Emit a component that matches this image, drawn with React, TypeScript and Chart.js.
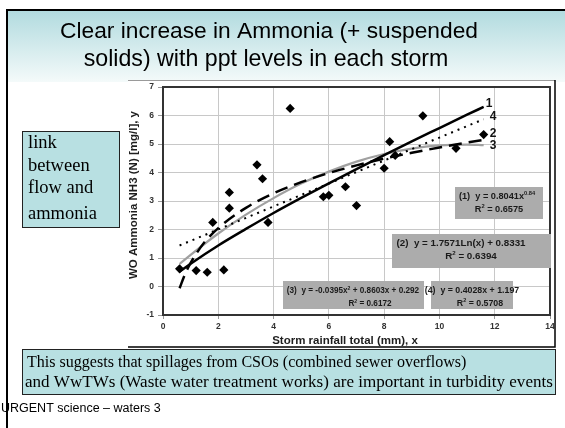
import { useEffect, useRef } from 'react';
import { Chart, registerables } from 'chart.js';

Chart.register(...registerables);

// Observed storms: rainfall total (mm) vs WO ammonia NH3 (N) (mg/l)
const obsX = [0.6, 1.2, 1.6, 2.2, 1.8, 2.4, 2.4, 3.4, 3.6, 3.8, 4.6, 5.8, 6.0, 6.6, 7.0, 8.0, 8.2, 8.4, 9.4, 10.6, 11.6];
const obsY = [0.62, 0.56, 0.5, 0.58, 2.25, 3.3, 2.75, 4.27, 3.78, 2.25, 6.25, 3.15, 3.2, 3.5, 2.84, 4.15, 5.08, 4.6, 5.99, 4.85, 5.33];

// Trend lines
const powX = [0.6, 1, 2, 3, 4, 5, 6, 7, 8, 9, 10, 11, 11.6];
const powY = [0.52, 0.8, 1.44, 2.02, 2.58, 3.11, 3.62, 4.12, 4.61, 5.09, 5.56, 6.03, 6.3];
const logX = [0.6, 0.8, 1, 1.5, 2, 3, 4, 5, 6, 7, 8, 9, 10, 11, 11.6];
const logY = [-0.06, 0.44, 0.83, 1.55, 2.05, 2.76, 3.27, 3.66, 3.98, 4.25, 4.49, 4.69, 4.88, 5.05, 5.14];
const polyX = [0.6, 1, 2, 3, 4, 5, 6, 7, 8, 9, 10, 11, 11.6];
const polyY = [0.79, 1.11, 1.86, 2.52, 3.1, 3.61, 4.03, 4.38, 4.65, 4.84, 4.95, 4.98, 4.96];
const linX = [0.6, 11.6];
const linY = [1.44, 5.87];

const trendNames = ['1', '2', '3', '4'];

const xTicks = [0, 2, 4, 6, 8, 10, 12, 14];
const yTicks = [-1, 0, 1, 2, 3, 4, 5, 6, 7];

const xTitle = 'Storm rainfall total (mm), x';
const yTitle = 'WO Ammonia NH3 (N) [mg/l], y';
const titleLines = ['Clear increase in Ammonia (+ suspended', 'solids) with ppt levels in each storm'];
const sideLines = ['link', 'between', 'flow and', 'ammonia'];
const noteLines = [
  'This suggests that spillages from CSOs (combined sewer overflows)',
  'and WwTWs (Waste water treatment works) are important in turbidity events',
];
const footer = 'URGENT science \u2013 waters 3';

type Seg = { t: string; sup?: boolean };
const eq1: Seg[][] = [[{ t: '(1)  y = 0.8041x' }, { t: '0.84', sup: true }], [{ t: 'R' }, { t: '2', sup: true }, { t: ' = 0.6575' }]];
const eq2: Seg[][] = [[{ t: '(2)  y = 1.7571Ln(x) + 0.8331' }], [{ t: 'R' }, { t: '2', sup: true }, { t: ' = 0.6394' }]];
const eq3: Seg[][] = [[{ t: '(3)  y = -0.0395x' }, { t: '2', sup: true }, { t: ' + 0.8603x + 0.292' }], [{ t: 'R' }, { t: '2', sup: true }, { t: ' = 0.6172' }]];
const eq4: Seg[][] = [[{ t: '(4)  y = 0.4028x + 1.197' }], [{ t: 'R' }, { t: '2', sup: true }, { t: ' = 0.5708' }]];

const SANS = '"Liberation Sans", Arial, sans-serif';
const SERIF = '"Liberation Serif", "Times New Roman", serif';

function drawRich(ctx: CanvasRenderingContext2D, segs: Seg[], cx: number, y: number, size: number) {
  const main = `bold ${size}px ${SANS}`;
  const sup = `bold ${size * 0.62}px ${SANS}`;
  let w = 0;
  for (const s of segs) {
    ctx.font = s.sup ? sup : main;
    w += ctx.measureText(s.t).width;
  }
  let x = cx - w / 2;
  ctx.textAlign = 'left';
  ctx.textBaseline = 'alphabetic';
  for (const s of segs) {
    ctx.font = s.sup ? sup : main;
    ctx.fillText(s.t, x, s.sup ? y - size * 0.42 : y);
    x += ctx.measureText(s.t).width;
  }
}

function eqBox(ctx: CanvasRenderingContext2D, lines: Seg[][], x: number, y: number, w: number, h: number, cx: number, cx2: number, size: number) {
  ctx.fillStyle = '#acacac';
  ctx.fillRect(x, y, w, h);
  ctx.fillStyle = '#1a1a1a';
  drawRich(ctx, lines[0], cx, y + 12, size);
  drawRich(ctx, lines[1], cx2, y + 25, size);
}

// draws text with a font size chosen so the line spans the given width
function fitText(ctx: CanvasRenderingContext2D, text: string, fam: string, base: number, width: number, x: number, y: number, align: CanvasTextAlign) {
  ctx.font = `${base}px ${fam}`;
  const w = ctx.measureText(text).width;
  const size = base * (width / w);
  ctx.font = `${size}px ${fam}`;
  ctx.textAlign = align;
  ctx.fillText(text, x, y);
}

const slidePlugin = {
  id: 'slide',
  beforeDraw(chart: any) {
    const ctx: CanvasRenderingContext2D = chart.ctx;
    ctx.save();
    ctx.fillStyle = '#ffffff';
    ctx.fillRect(0, 0, 565, 428);
    const g = ctx.createLinearGradient(0, 11, 0, 82);
    g.addColorStop(0, '#b2dbdf');
    g.addColorStop(1, '#f4fafa');
    ctx.fillStyle = g;
    ctx.fillRect(8, 11, 557, 71);
    // embedded chart picture background
    ctx.fillStyle = '#ffffff';
    ctx.fillRect(128, 80, 427, 267);
    ctx.strokeStyle = '#9a9a9a';
    ctx.lineWidth = 1;
    ctx.beginPath();
    ctx.moveTo(128, 80.5);
    ctx.lineTo(555, 80.5);
    ctx.stroke();
    ctx.strokeStyle = '#000';
    ctx.lineWidth = 1.5;
    ctx.beginPath();
    ctx.moveTo(555, 80);
    ctx.lineTo(555, 347);
    ctx.lineTo(128, 347);
    ctx.stroke();
    // slide frame
    ctx.fillStyle = '#000';
    ctx.fillRect(6, 9, 559, 2);
    ctx.fillRect(6, 9, 2, 419);
    ctx.restore();
  },
  afterDraw(chart: any) {
    const ctx: CanvasRenderingContext2D = chart.ctx;
    const a = chart.chartArea;
    ctx.save();
    // plot frame
    ctx.strokeStyle = '#333';
    ctx.lineWidth = 2;
    ctx.strokeRect(a.left, a.top, a.right - a.left, a.bottom - a.top);

    // axis titles
    ctx.fillStyle = '#1e1e1e';
    ctx.textBaseline = 'middle';
    ctx.textAlign = 'center';
    ctx.font = `bold 11.5px ${SANS}`;
    ctx.fillText(xTitle, 345, 341);
    ctx.save();
    ctx.translate(134, 195);
    ctx.rotate(-Math.PI / 2);
    ctx.font = `bold 11.5px ${SANS}`;
    ctx.fillText(yTitle, 0, 0);
    ctx.restore();

    // trend line numbers
    const xs = chart.scales.x;
    const ys = chart.scales.y;
    const ends = [
      [powX[powX.length - 1], powY[powY.length - 1], 2, -3],
      [logX[logX.length - 1], logY[logY.length - 1], 6, -6],
      [polyX[polyX.length - 1], polyY[polyY.length - 1], 6, 1],
      [linX[linX.length - 1], linY[linY.length - 1], 6, -3],
    ];
    ctx.fillStyle = '#111';
    ctx.font = `bold 12px ${SANS}`;
    ctx.textAlign = 'left';
    ctx.textBaseline = 'middle';
    ends.forEach((e, i) => {
      ctx.fillText(trendNames[i], xs.getPixelForValue(e[0]) + e[2], ys.getPixelForValue(e[1]) + e[3]);
    });

    // equation boxes
    eqBox(ctx, eq1, 455, 187, 88, 32, 497, 499, 9.2);
    eqBox(ctx, eq2, 392, 234, 159, 34, 461, 471, 9.8);
    eqBox(ctx, eq3, 283, 281, 141, 28, 353, 370, 8.2);
    eqBox(ctx, eq4, 431, 281, 82, 28, 472, 480, 8.8);

    // title
    ctx.fillStyle = '#000';
    ctx.textBaseline = 'alphabetic';
    fitText(ctx, titleLines[0], SANS, 22, 418, 269, 38, 'center');
    fitText(ctx, titleLines[1], SANS, 22, 365, 266, 66, 'center');

    // left note box
    ctx.fillStyle = '#b8e0e2';
    ctx.fillRect(22, 131, 98, 96);
    ctx.strokeStyle = '#222';
    ctx.lineWidth = 1;
    ctx.strokeRect(22.5, 131.5, 97, 96);
    ctx.fillStyle = '#000';
    ctx.font = `18.5px ${SERIF}`;
    ctx.textAlign = 'left';
    const sideBase = [148, 171, 193, 219];
    sideLines.forEach((t, i) => ctx.fillText(t, 28, sideBase[i]));

    // bottom note box
    ctx.fillStyle = '#b8e0e2';
    ctx.fillRect(22, 349, 534, 46);
    ctx.strokeStyle = '#222';
    ctx.strokeRect(22.5, 349.5, 533, 45);
    ctx.fillStyle = '#000';
    fitText(ctx, noteLines[0], SERIF, 16, 440, 27, 367, 'left');
    fitText(ctx, noteLines[1], SERIF, 16, 528, 25, 387, 'left');

    // footer
    ctx.font = `12.5px ${SANS}`;
    ctx.textAlign = 'left';
    ctx.fillText(footer, 1, 412);
    ctx.restore();
  },
};

export default function App() {
  const ref = useRef<HTMLCanvasElement | null>(null);
  useEffect(() => {
    if (!ref.current) return;
    const pts = (xs: number[], ys: number[]) => xs.map((x, i) => ({ x, y: ys[i] }));
    const chart = new Chart(ref.current, {
      type: 'scatter',
      data: {
        datasets: [
          {
            label: 'obs',
            data: pts(obsX, obsY),
            pointStyle: 'rectRot',
            pointRadius: 4.6,
            backgroundColor: '#000',
            borderColor: '#000',
            borderWidth: 0,
            showLine: false,
            order: 0,
          },
          {
            label: '3',
            data: pts(polyX, polyY),
            showLine: true,
            borderColor: '#a0a0a0',
            borderWidth: 2.2,
            pointRadius: 0,
            cubicInterpolationMode: 'monotone',
            order: 4,
          },
          {
            label: '4',
            data: pts(linX, linY),
            showLine: true,
            borderColor: '#000',
            borderWidth: 2,
            borderDash: [2, 5],
            pointRadius: 0,
            order: 3,
          },
          {
            label: '2',
            data: pts(logX, logY),
            showLine: true,
            borderColor: '#000',
            borderWidth: 2.5,
            borderDash: [13, 7],
            pointRadius: 0,
            cubicInterpolationMode: 'monotone',
            order: 2,
          },
          {
            label: '1',
            data: pts(powX, powY),
            showLine: true,
            borderColor: '#000',
            borderWidth: 2.5,
            pointRadius: 0,
            cubicInterpolationMode: 'monotone',
            order: 1,
          },
        ],
      },
      options: {
        responsive: false,
        animation: false,
        devicePixelRatio: 1,
        layout: { padding: { left: 128, top: 87, right: 15, bottom: 80 } },
        plugins: { legend: { display: false }, tooltip: { enabled: false } },
        scales: {
          x: {
            type: 'linear',
            min: 0,
            max: 14,
            afterBuildTicks: (s: any) => { s.ticks = xTicks.map((v) => ({ value: v })); },
            afterFit: (s: any) => { s.height = 33; },
            grid: { color: '#c8c8c8', lineWidth: 1, tickLength: 4, tickColor: '#999' },
            border: { color: '#333', width: 2 },
            ticks: { color: '#333', font: { family: SANS, size: 8.5, weight: 'bold' }, padding: 3, maxRotation: 0 },
          },
          y: {
            type: 'linear',
            min: -1,
            max: 7,
            afterBuildTicks: (s: any) => { s.ticks = yTicks.map((v) => ({ value: v })); },
            afterFit: (s: any) => { s.width = 35; },
            grid: { color: '#c8c8c8', lineWidth: 1, tickLength: 5, tickColor: '#999' },
            border: { color: '#333', width: 2 },
            ticks: { color: '#333', font: { family: SANS, size: 8.5, weight: 'bold' }, padding: 4 },
          },
        },
      },
      plugins: [slidePlugin],
    } as any);
    return () => chart.destroy();
  }, []);
  return (
    <div style={{ position: 'fixed', left: 0, top: 0, width: 565, height: 428 }}>
      <canvas ref={ref} width={565} height={428} style={{ display: 'block', width: 565, height: 428 }} />
    </div>
  );
}
